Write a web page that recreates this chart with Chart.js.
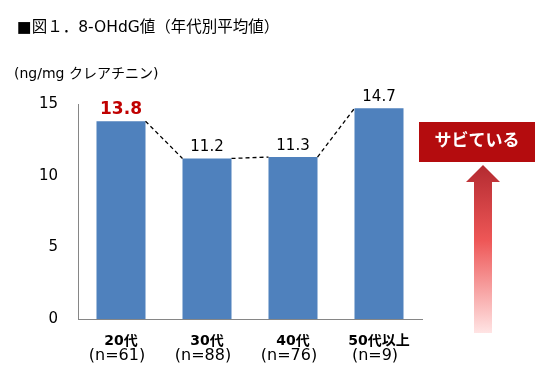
<!DOCTYPE html>
<html>
<head>
<meta charset="utf-8">
<script src="https://cdn.jsdelivr.net/npm/chart.js@4"></script>
<style>
  body { margin: 0; background: #fff; }
  #wrap { width: 552px; height: 382px; position: relative; }
</style>
</head>
<body>
<div id="wrap"><canvas id="chart"></canvas></div>
<script>
// data
const ageGroups = ['20代', '30代', '40代', '50代以上'];
const sampleSizes = ['(n=61)', '(n=88)', '(n=76)', '(n=9)'];
const meanValues = [13.8, 11.2, 11.3, 14.7];
const yTicks = [0, 5, 10, 15];
const titleText = '■図１．8-OHdG値（年代別平均値）';
const unitText = '(ng/mg クレアチニン)';
const calloutText = 'サビている';
const highlightIndex = 0;

const FONT = '"DejaVu Sans", "Noto Sans CJK JP", sans-serif';
const BAR_COLOR = '#4F81BD';

// draws title, labels, dashed connectors and the callout arrow
const decorations = {
    id: 'decorations',
    afterDraw(chart) {
        const ctx = chart.ctx;
        const meta = chart.getDatasetMeta(0);
        const xScale = chart.scales.x;
        ctx.save();

        // title + unit
        ctx.fillStyle = '#000';
        ctx.textAlign = 'left';
        ctx.textBaseline = 'middle';
        ctx.font = '15.5px ' + FONT;
        ctx.fillText(titleText, 17, 28);
        ctx.font = '14px ' + FONT;
        ctx.fillText(unitText, 14, 74);

        // dashed lines between bar tops
        ctx.strokeStyle = '#000';
        ctx.lineWidth = 1.3;
        ctx.setLineDash([4, 3]);
        for (let i = 0; i < meta.data.length - 1; i++) {
            const a = meta.data[i], b = meta.data[i + 1];
            ctx.beginPath();
            ctx.moveTo(a.x + a.width / 2, a.y);
            ctx.lineTo(b.x - b.width / 2, b.y);
            ctx.stroke();
        }
        ctx.setLineDash([]);

        // value labels
        ctx.textAlign = 'center';
        ctx.textBaseline = 'alphabetic';
        meta.data.forEach((bar, i) => {
            if (i === highlightIndex) {
                ctx.fillStyle = '#C00000';
                ctx.font = 'bold 17px ' + FONT;
            } else {
                ctx.fillStyle = '#000';
                ctx.font = '15px ' + FONT;
            }
            ctx.fillText(meanValues[i].toFixed(1), bar.x, bar.y - 7);
        });

        // category labels (two lines)
        ctx.fillStyle = '#000';
        ctx.textBaseline = 'middle';
        ageGroups.forEach((g, i) => {
            const x = xScale.getPixelForValue(i);
            ctx.font = 'bold 14px ' + FONT;
            ctx.fillText(g, x, 341);
            ctx.font = '16px ' + FONT;
            ctx.fillText(sampleSizes[i], x - 4, 356);
        });

        // callout box
        ctx.fillStyle = '#B40C0E';
        ctx.fillRect(419, 122, 116, 40);
        ctx.fillStyle = '#fff';
        ctx.font = 'bold 17px ' + FONT;
        ctx.fillText(calloutText, 477, 142);

        // gradient arrow
        const grad = ctx.createLinearGradient(0, 165, 0, 333);
        grad.addColorStop(0, '#B32A30');
        grad.addColorStop(0.45, '#EE5757');
        grad.addColorStop(1, '#FFE4E4');
        ctx.fillStyle = grad;
        ctx.beginPath();
        ctx.moveTo(483, 165);
        ctx.lineTo(500, 182);
        ctx.lineTo(492, 182);
        ctx.lineTo(492, 333);
        ctx.lineTo(474, 333);
        ctx.lineTo(474, 182);
        ctx.lineTo(466, 182);
        ctx.closePath();
        ctx.fill();

        ctx.restore();
    }
};

new Chart(document.getElementById('chart'), {
    type: 'bar',
    data: {
        labels: ageGroups,
        datasets: [{
            data: meanValues,
            backgroundColor: BAR_COLOR,
            categoryPercentage: 1,
            barPercentage: 0.57
        }]
    },
    options: {
        responsive: true,
        maintainAspectRatio: false,
        animation: false,
        layout: { padding: { top: 104, right: 130, bottom: 0, left: 0 } },
        plugins: {
            legend: { display: false },
            tooltip: { enabled: false }
        },
        scales: {
            x: {
                grid: { display: false, drawTicks: false },
                border: { color: '#868686', width: 1 },
                ticks: { display: false },
                afterFit(scale) { scale.height = 63; }
            },
            y: {
                min: 0,
                max: 15,
                afterBuildTicks(scale) { scale.ticks = yTicks.map(v => ({ value: v })); },
                grid: { display: false, drawTicks: false },
                border: { color: '#868686', width: 1 },
                ticks: {
                    color: '#000',
                    padding: 20,
                    font: { family: FONT, size: 15 }
                },
                afterFit(scale) { scale.width = 78; }
            }
        }
    },
    plugins: [decorations]
});
</script>
</body>
</html>
